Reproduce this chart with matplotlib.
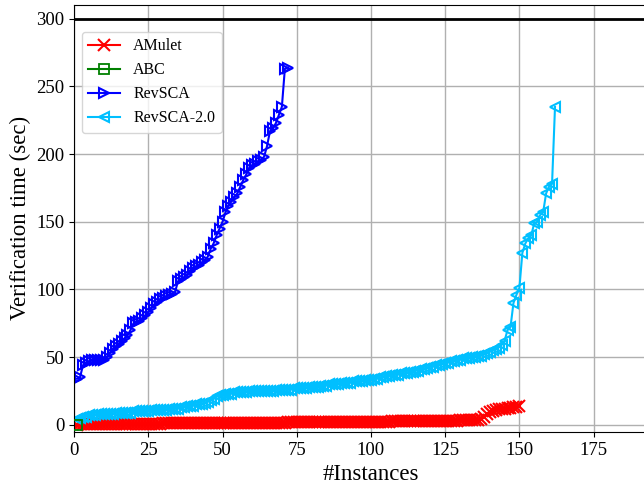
import matplotlib
matplotlib.use("Agg")
import matplotlib.pyplot as plt

plt.rcParams['font.family'] = ['Liberation Serif', 'DejaVu Serif']

amulet = [0.2, 0.3, 0.3, 0.4, 0.4, 0.4, 0.5, 0.5, 0.5, 0.5,
          0.5, 0.6, 0.6, 0.6, 0.6, 0.6, 0.7, 0.7, 0.7, 0.7,
          0.7, 0.8, 0.8, 0.8, 0.8, 0.9, 0.9, 0.9, 0.9, 1.0,
          1.0, 1.0, 1.0, 1.0, 1.1, 1.1, 1.1, 1.1, 1.1, 1.2,
          1.2, 1.2, 1.2, 1.2, 1.2, 1.3, 1.3, 1.3, 1.3, 1.3,
          1.3, 1.4, 1.4, 1.4, 1.4, 1.4, 1.4, 1.5, 1.5, 1.5,
          1.5, 1.5, 1.5, 1.5, 1.6, 1.6, 1.6, 1.6, 1.6, 1.6,
          1.6, 1.7, 1.7, 1.7, 1.7, 1.7, 1.7, 1.7, 1.8, 1.8,
          1.8, 1.8, 1.8, 1.8, 1.8, 1.9, 1.9, 1.9, 1.9, 1.9,
          1.9, 1.9, 2.0, 2.0, 2.0, 2.0, 2.0, 2.0, 2.0, 2.1,
          2.1, 2.1, 2.1, 2.1, 2.3, 2.4, 2.5, 2.5, 2.5, 2.6,
          2.6, 2.6, 2.6, 2.7, 2.7, 2.7, 2.7, 2.8, 2.8, 2.8,
          2.8, 2.9, 2.9, 2.9, 3.0, 3.0, 3.0, 3.1, 3.1, 3.2,
          3.2, 3.3, 3.3, 3.4, 3.5, 3.7, 4.0, 5.5, 8.0, 9.5,
          10.5, 11.0, 11.5, 11.8, 12.0, 12.3, 12.6, 13.0, 13.3, 13.8]

abc = [0.0]

revsca = [34, 35, 44, 46, 47, 48, 48, 48, 48, 48,
          50, 53, 56, 58, 60, 62, 64, 66, 70, 75,
          76, 77, 79, 81, 83, 86, 89, 91, 93, 94,
          95, 96, 97, 98, 106, 108, 109, 111, 114, 116,
          117, 118, 120, 122, 124, 130, 134, 140, 145, 150,
          157, 162, 165, 168, 171, 176, 181, 185, 190, 192,
          193, 195, 196, 198, 206, 217, 219, 223, 229, 235,
          263, 264]

revsca2 = [4, 5, 6, 6, 7, 7, 7, 8, 8, 8,
           8, 8, 8, 9, 9, 9, 9, 9, 9, 10,
           10, 10, 10, 10, 10, 11, 11, 11, 11, 11,
           11, 12, 12, 12, 12, 13, 13, 14, 14, 14,
           15, 15, 15, 16, 17, 18, 19, 21, 22, 22,
           23, 23, 23, 24, 24, 24, 24, 24, 25, 25,
           25, 25, 25, 25, 25, 25, 25, 26, 26, 26,
           26, 26, 26, 27, 27, 27, 27, 27, 28, 28,
           28, 28, 29, 29, 29, 30, 30, 30, 30, 31,
           31, 31, 31, 32, 32, 32, 32, 33, 33, 33,
           34, 34, 35, 35, 36, 36, 37, 37, 37, 38,
           38, 38, 39, 39, 40, 40, 41, 41, 42, 43,
           43, 44, 44, 45, 46, 46, 47, 47, 48, 48,
           49, 49, 49, 50, 50, 51, 51, 52, 53, 54,
           55, 56, 57, 59, 62, 70, 72, 90, 96, 101,
           127, 134, 138, 140, 149, 150, 155, 157, 171, 176,
           178, 235]

timeout = 300
x_ticks = [0, 25, 50, 75, 100, 125, 150, 175]
y_ticks = [0, 50, 100, 150, 200, 250, 300]

fig = plt.figure(figsize=(6.44, 4.87), dpi=100)
ax = fig.add_axes([0.115, 0.113, 0.922, 0.877])

def xs(vals):
    return list(range(1, len(vals) + 1))

ax.plot(xs(amulet), amulet, color='red', marker='x', markersize=8, lw=1.5,
        markeredgewidth=1.5, label='AMulet')
ax.plot(xs(abc), abc, color='green', marker='s', markersize=7, lw=1.5,
        markerfacecolor='none', markeredgewidth=1.3, label='ABC', zorder=5)
ax.plot(xs(revsca), revsca, color='blue', marker='>', markersize=7.5, lw=1.5,
        markerfacecolor='none', markeredgewidth=1.5, label='RevSCA')
ax.plot(xs(revsca2), revsca2, color='deepskyblue', marker='<', markersize=7.5, lw=1.5,
        markerfacecolor='none', markeredgewidth=1.5, label='RevSCA-2.0')

ax.axhline(timeout, color='black', lw=2)

ax.set_xlim(0, 200)
ax.set_ylim(-5.3, 310.3)
ax.set_xticks(x_ticks)
ax.set_yticks(y_ticks)
ax.tick_params(labelsize=13.5)
ax.grid(True, color='#b0b0b0', lw=1)
ax.set_axisbelow(True)
ax.set_xlabel('#Instances', fontsize=16.5)
ax.set_ylabel('Verification time (sec)', fontsize=16.5)
ax.legend(loc='upper left', fontsize=11.5, bbox_to_anchor=(0.0, 0.955))

fig.savefig('out.png', dpi=100)
